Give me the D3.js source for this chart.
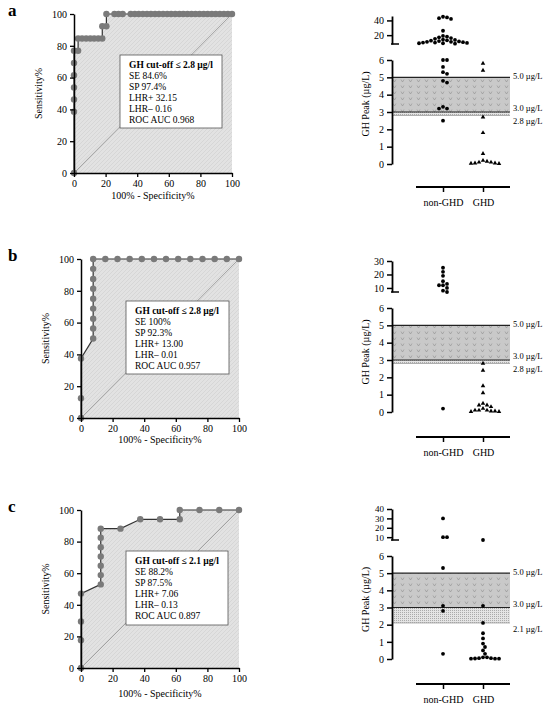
<!DOCTYPE html>
<html>
<head>
<meta charset="utf-8">
<script src="https://cdn.jsdelivr.net/npm/d3@7"></script>
<style>
  body { margin: 0; background: #fff; }
  svg text { font-family: "Liberation Serif", "DejaVu Serif", serif; }
</style>
</head>
<body>
<svg id="chart" width="550" height="709"></svg>
<script>
// ROC curves: [100% - specificity, sensitivity]
var rocA = [[0,0],[0,38.5],[0,46.2],[0,53.8],[0,61.5],[0,69.2],[0,76.9],[2.6,76.9],[2.6,84.6],[5.1,84.6],[7.7,84.6],[10.3,84.6],[12.8,84.6],[15.4,84.6],[17.9,84.6],[17.9,92.3],[20.5,92.3],[20.5,100],[25.6,100],[28.2,100],[30.8,100],[35.9,100],[38.5,100],[41,100],[43.6,100],[46.2,100],[48.7,100],[51.3,100],[53.8,100],[56.4,100],[59,100],[61.5,100],[64.1,100],[66.7,100],[69.2,100],[71.8,100],[74.4,100],[76.9,100],[79.5,100],[82.1,100],[84.6,100],[87.2,100],[89.7,100],[92.3,100],[94.9,100],[97.4,100],[100,100]];
var rocB = [[0,0],[0,12.5],[0,37.5],[7.7,50],[7.7,56.3],[7.7,62.5],[7.7,68.8],[7.7,75],[7.7,81.3],[7.7,87.5],[7.7,93.8],[7.7,100],[15.4,100],[23.1,100],[30.8,100],[38.5,100],[46.2,100],[53.8,100],[61.5,100],[69.2,100],[76.9,100],[84.6,100],[92.3,100],[100,100]];
var rocC = [[0,0],[0,17.6],[0,29.4],[0,47.1],[12.5,52.9],[12.5,58.8],[12.5,64.7],[12.5,70.6],[12.5,76.5],[12.5,82.4],[12.5,88.2],[25,88.2],[37.5,94.1],[50,94.1],[62.5,94.1],[62.5,100],[75,100],[87.5,100],[100,100]];

var statsA = ["GH cut-off \u2264 2.8 \u00b5g/l", "SE 84.6%", "SP 97.4%", "LHR+ 32.15", "LHR\u2013 0.16", "ROC AUC 0.968"];
var statsB = ["GH cut-off \u2264 2.8 \u00b5g/l", "SE 100%", "SP 92.3%", "LHR+ 13.00", "LHR\u2013 0.01", "ROC AUC 0.957"];
var statsC = ["GH cut-off \u2264 2.1 \u00b5g/l", "SE 88.2%", "SP 87.5%", "LHR+ 7.06", "LHR\u2013 0.13", "ROC AUC 0.897"];

// GH peak values (µg/L)
var nonGhdA = [45,44,43,42,26,19,18,17,16,15,14,13.5,13,12.5,12,11.5,11,11,10.5,10,10,9.5,9,9,8.5,6,6,5.6,5.3,5.2,4.8,4.7,3.3,3.2,3.2,2.5];
var ghdA = [5.8,5.4,2.7,1.8,0.6,0.2,0.15,0.1,0.1,0.05,0.05,0.03,0.02];
var nonGhdB = [25,22,19,15,13,12,12,10,8,7,0.2];
var ghdB = [2.8,2.4,1.5,1.1,0.5,0.4,0.4,0.3,0.2,0.1,0.1,0.1,0.05,0.05,0.02,0.02];
var nonGhdC = [30,10,10,5.3,3.1,2.8,0.3];
var ghdC = [7,3.1,2.1,1.5,1.2,0.9,0.7,0.5,0.3,0.1,0.1,0.05,0.05,0.03,0.02,0.02,0.02];

var groups = ["non-GHD", "GHD"];
var refLines = [5.0, 3.0];

var svg = d3.select("#chart");

var defs = svg.append("defs");
var hatch = defs.append("pattern").attr("id", "hatch").attr("width", 4).attr("height", 4)
  .attr("patternUnits", "userSpaceOnUse");
hatch.append("rect").attr("width", 4).attr("height", 4).attr("fill", "#e2e2e2");
hatch.append("path").attr("d", "M0,4 L4,0").attr("stroke", "#cfcfcf").attr("stroke-width", 0.6);
var vees = defs.append("pattern").attr("id", "vees").attr("width", 8).attr("height", 6)
  .attr("patternUnits", "userSpaceOnUse");
vees.append("rect").attr("width", 8).attr("height", 6).attr("fill", "#c9c9c9");
vees.append("path").attr("d", "M1,1.5 L2.5,4 L4,1.5").attr("fill", "none").attr("stroke", "#8e8e8e").attr("stroke-width", 0.6);
var dots = defs.append("pattern").attr("id", "dots").attr("width", 2).attr("height", 2)
  .attr("patternUnits", "userSpaceOnUse");
dots.append("rect").attr("width", 2).attr("height", 2).attr("fill", "#e4e4e4");
dots.append("rect").attr("width", 1).attr("height", 1).attr("fill", "#aaa");

function drawRoc(letter, data, stats, x0, x1, y0, y1, box, labelY) {
  var g = svg.append("g");
  var x = d3.scaleLinear().domain([0, 100]).range([x0, x1]);
  var y = d3.scaleLinear().domain([0, 100]).range([y0, y1]);

  g.append("text").attr("x", 8).attr("y", y1 + 2).attr("font-size", 17)
    .attr("font-weight", "bold").text(letter);

  var area = d3.area().x(d => x(d[0])).y0(y(0)).y1(d => y(d[1]));
  g.append("path").datum(data).attr("d", area).attr("fill", "url(#hatch)");
  g.append("line").attr("x1", x(0)).attr("y1", y(0)).attr("x2", x(100)).attr("y2", y(100))
    .attr("stroke", "#777").attr("stroke-width", 0.6);

  g.append("path").datum(data).attr("d", d3.line().x(d => x(d[0])).y(d => y(d[1])))
    .attr("fill", "none").attr("stroke", "#333").attr("stroke-width", 1.2);
  g.selectAll("circle").data(data).join("circle")
    .attr("cx", d => x(d[0])).attr("cy", d => y(d[1])).attr("r", 3.2).attr("fill", "#7a7a7a");

  var xa = g.append("g").attr("transform", `translate(0,${y0})`)
    .call(d3.axisBottom(x).tickValues([0,20,40,60,80,100]).tickSize(4).tickSizeOuter(0));
  var ya = g.append("g").attr("transform", `translate(${x0},0)`)
    .call(d3.axisLeft(y).tickValues([0,20,40,60,80,100]).tickSize(4).tickSizeOuter(0));
  [xa, ya].forEach(a => {
    a.select(".domain").attr("stroke-width", 1.5);
    a.selectAll("line").attr("stroke-width", 1.3);
    a.selectAll("text").attr("font-size", 10).attr("font-family", "Liberation Serif");
  });

  g.append("text").attr("transform", `translate(${x0 - 32},${(y0 + y1) / 2}) rotate(-90)`)
    .attr("text-anchor", "middle").attr("font-size", 10).text("Sensitivity%");
  g.append("text").attr("x", (x0 + x1) / 2).attr("y", labelY).attr("text-anchor", "middle")
    .attr("font-size", 10).text("100% - Specificity%");

  g.append("rect").attr("x", box[0]).attr("y", box[1]).attr("width", box[2]).attr("height", box[3])
    .attr("fill", "#fff").attr("stroke", "#555").attr("stroke-width", 0.8);
  g.selectAll(".st").data(stats).join("text")
    .attr("x", box[0] + 9).attr("y", (d, i) => box[1] + 13 + i * 11)
    .attr("font-size", 9.5).attr("font-weight", (d, i) => i === 0 ? "bold" : "normal").text(d => d);
}

function swarm(vals, scale, cx, r) {
  var placed = [];
  return vals.map(v => {
    var py = scale(v), off = 0, k = 0;
    while (true) {
      var ok = placed.every(p => Math.hypot(p[0] - (cx + off), p[1] - py) >= r * 1.8);
      if (ok) break;
      k++;
      off = (k % 2 ? 1 : -1) * Math.ceil(k / 2) * r;
    }
    placed.push([cx + off, py]);
    return [cx + off, py];
  });
}

function drawScatter(nonGhd, ghd, cutoff, upper, upperTicks, yTop, yBreak, y6, y0, axisY, ghdTri) {
  var g = svg.append("g");
  var ax = 392, xEnd = 510;
  var xg = d3.scalePoint().domain(groups).range([443, 483]);
  var yLow = d3.scaleLinear().domain([0, 6]).range([y0, y6]);
  var yUp = d3.scaleLinear().domain(upper).range([yBreak, yTop]);
  var yv = v => v > 6.5 ? yUp(v) : yLow(v);

  // bands
  g.append("rect").attr("x", ax).attr("width", xEnd - ax).attr("y", yLow(5))
    .attr("height", yLow(3) - yLow(5)).attr("fill", "url(#vees)");
  g.append("rect").attr("x", ax).attr("width", xEnd - ax).attr("y", yLow(3))
    .attr("height", yLow(cutoff) - yLow(3)).attr("fill", "url(#dots)");
  refLines.concat([cutoff]).forEach((v, i) => {
    g.append("line").attr("x1", ax).attr("x2", xEnd).attr("y1", yLow(v)).attr("y2", yLow(v))
      .attr("stroke", i < 2 ? "#222" : "#999").attr("stroke-width", i < 2 ? 1.2 : 0.8);
  });
  var labs = [[5, "5.0 \u00b5g/L"], [3, "3.0 \u00b5g/L"], [cutoff, cutoff.toFixed(1) + " \u00b5g/L"]];
  labs.forEach((l, i) => {
    var yy = yLow(l[0]) + (i === 1 ? -1 : i === 2 ? 9 : 2);
    g.append("text").attr("x", 513).attr("y", yy).attr("font-size", 8.5).text(l[1]);
  });

  // axes
  [[yLow, [0,1,2,3,4,5,6], 10], [yUp, upperTicks, upperTicks.length > 3 ? 9 : 10]].forEach(p => {
    var a = g.append("g").attr("transform", `translate(${ax},0)`)
      .call(d3.axisLeft(p[0]).tickValues(p[1]).tickFormat(d3.format("d")).tickSize(5).tickSizeOuter(0));
    a.select(".domain").attr("stroke-width", 1.8);
    a.selectAll("line").attr("stroke-width", 1.5);
    a.selectAll("text").attr("font-size", p[2]).attr("font-family", "Liberation Serif");
  });
  g.append("line").attr("x1", ax - 1).attr("x2", ax + 7).attr("y1", yBreak).attr("y2", yBreak)
    .attr("stroke", "#000").attr("stroke-width", 1.5);
  g.append("text").attr("transform", `translate(${ax - 23},${(yBreak + y0) / 2}) rotate(-90)`)
    .attr("text-anchor", "middle").attr("font-size", 10).text("GH Peak (\u00b5g/L)");

  var xa = g.append("g").attr("transform", `translate(0,${axisY})`)
    .call(d3.axisBottom(xg).tickSize(5).tickSizeOuter(0));
  xa.select(".domain").attr("d", `M416,0H${xEnd}`).attr("stroke-width", 1.8);
  xa.selectAll("line").attr("stroke-width", 1.5);
  xa.selectAll("text").attr("font-size", 10).attr("font-family", "Liberation Serif").attr("dy", "1.1em");

  var s1 = swarm(nonGhd, yv, xg("non-GHD"), 2);
  g.selectAll(".n").data(s1).join("circle").attr("cx", d => d[0]).attr("cy", d => d[1])
    .attr("r", 1.9).attr("fill", "#000");
  var s2 = swarm(ghd, yv, xg("GHD"), 2);
  if (ghdTri) {
    g.selectAll(".t").data(s2).join("path")
      .attr("d", d3.symbol(d3.symbolTriangle, 9))
      .attr("transform", d => `translate(${d[0]},${d[1]})`).attr("fill", "#000");
  } else {
    g.selectAll(".g").data(s2).join("circle").attr("cx", d => d[0]).attr("cy", d => d[1])
      .attr("r", 1.9).attr("fill", "#000");
  }
}

drawRoc("a", rocA, statsA, 74, 232, 173, 14, [120, 55, 102, 73], 199);
drawRoc("b", rocB, statsB, 81, 239, 418, 259, [126, 301, 103, 73], 443);
drawRoc("c", rocC, statsC, 81, 239, 668, 510, [126, 551, 102, 74], 697);

drawScatter(nonGhdA, ghdA, 2.8, [8, 46], [20, 40], 16, 44, 60, 164, 187, true);
drawScatter(nonGhdB, ghdB, 2.8, [7, 30], [10, 20, 30], 261, 292, 308, 412, 437, true);
drawScatter(nonGhdC, ghdC, 2.1, [7, 40], [10, 20, 30, 40], 509, 540, 556, 659, 684, false);
</script>
</body>
</html>
